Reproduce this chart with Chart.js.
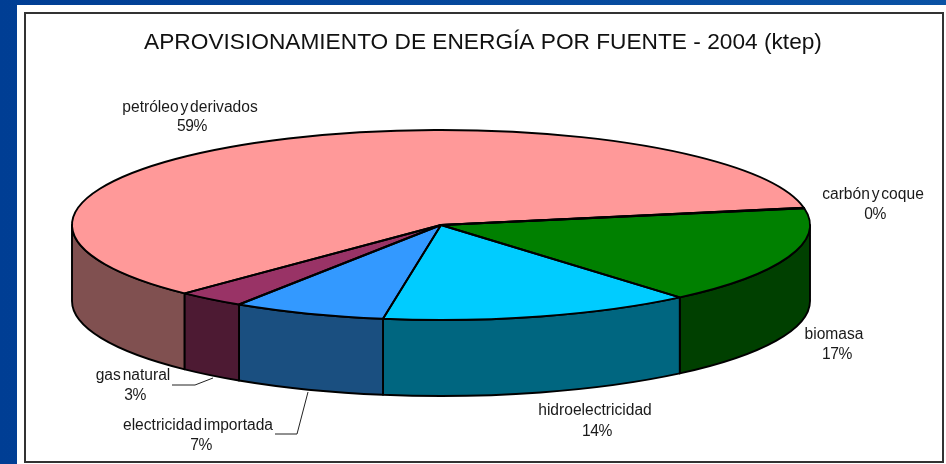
<!DOCTYPE html>
<html><head><meta charset="utf-8">
<style>html,body{margin:0;padding:0;background:#fff;overflow:hidden}canvas{display:block}</style>
<script src="https://cdn.jsdelivr.net/npm/chart.js@4"></script></head>
<body><canvas id="c" width="946" height="464" style="width:946px;height:464px"></canvas>
<script>
const chartTitle = 'APROVISIONAMIENTO DE ENERGÍA POR FUENTE - 2004 (ktep)';
const categories = ['petróleo y derivados','carbón y coque','biomasa','hidroelectricidad','electricidad importada','gas natural'];
const values = [59.8, 0.1, 16.6, 13.7, 6.7, 3.0];
const percentLabels = ['59%','0%','17%','14%','7%','3%'];
const topColors = ['#FF9999','#FFFFCC','#008000','#00CCFF','#3399FF','#993366'];
const sideColors = ['#805050','#808066','#004000','#006680','#1A4F80','#4D1A33'];
const nameCentres = [[190,108],[873,195],[834,335],[595,411],[198,426],[133,376]];
const percentCentres = [[192,127],[875,215],[837,355],[597,432],[201,446],[135,396]];
const leaderLines = [
  [[275,434],[297,434],[308,392]],
  [[172,385],[195,385],[213,378]]
];
const PIE = {cx:441, cy:225, rx:369, ry:95, depth:76};

const scene = {
  id:'scene',
  beforeDraw(chart){
    const g = chart.ctx;
    g.save();
    const grad = g.createLinearGradient(0,0,946,0);
    grad.addColorStop(0,'#003E94'); grad.addColorStop(1,'#0A52A4');
    g.fillStyle = grad; g.fillRect(0,0,946,464);
    g.fillStyle = '#fff'; g.fillRect(17,5,929,459);
    g.strokeStyle = '#333'; g.lineWidth = 2;
    g.strokeRect(25,13,918,449);
    g.restore();
  },
  beforeDatasetsDraw(chart){
    const g = chart.ctx, arcs = chart.getDatasetMeta(0).data, P = PIE;
    g.save();
    g.lineWidth = 1.9; g.strokeStyle = '#000'; g.lineJoin = 'round';
    arcs.forEach((arc,i)=>{
      const T = Math.PI*2;
      let s = arc.startAngle % T; if (s<0) s+=T;
      const e = s + (arc.endAngle-arc.startAngle);
      [[0,Math.PI],[T,T+Math.PI]].forEach(([lo,hi])=>{
        const a = Math.max(s,lo), b = Math.min(e,hi);
        if (b<=a) return;
        g.beginPath();
        g.ellipse(P.cx,P.cy,P.rx,P.ry,0,a,b);
        g.lineTo(P.cx+P.rx*Math.cos(b),P.cy+P.ry*Math.sin(b)+P.depth);
        g.ellipse(P.cx,P.cy+P.depth,P.rx,P.ry,0,b,a,true);
        g.closePath();
        g.fillStyle = sideColors[i];
        g.fill(); g.stroke();
      });
    });
    g.restore();
    // flatten the library's own pie into the tilted ellipse
    const a0 = arcs[0];
    g.save();
    g.translate(P.cx,P.cy);
    g.scale(P.rx/a0.outerRadius,P.ry/a0.outerRadius);
    g.translate(-a0.x,-a0.y);
  },
  afterDatasetsDraw(chart){
    const g = chart.ctx, arcs = chart.getDatasetMeta(0).data, P = PIE;
    g.restore();
    g.save();
    g.lineWidth = 1.9; g.strokeStyle = '#000'; g.lineJoin = 'round';
    arcs.forEach(arc=>{
      g.beginPath();
      g.moveTo(P.cx,P.cy);
      g.ellipse(P.cx,P.cy,P.rx,P.ry,0,arc.startAngle,arc.endAngle);
      g.closePath();
      g.stroke();
    });
    g.lineWidth = 1; g.strokeStyle = '#222';
    leaderLines.forEach(pts=>{
      g.beginPath();
      pts.forEach((p,k)=> k? g.lineTo(p[0],p[1]) : g.moveTo(p[0],p[1]));
      g.stroke();
    });
    g.fillStyle = '#1a1a1a';
    g.font = '15.6px "Liberation Sans"';
    g.textAlign = 'center'; g.textBaseline = 'middle';
    g.wordSpacing = '-2.5px';
    categories.forEach((name,i)=>{
      g.fillText(name,nameCentres[i][0],nameCentres[i][1]);
    });
    g.wordSpacing = '0px';
    g.letterSpacing = '-0.4px';
    percentLabels.forEach((txt,i)=>{
      g.fillText(txt,percentCentres[i][0],percentCentres[i][1]);
    });
    g.restore();
  }
};

new Chart(document.getElementById('c'),{
  type:'pie',
  data:{labels:categories,datasets:[{data:values,backgroundColor:topColors,borderWidth:0,clip:false}]},
  options:{
    responsive:false,animation:false,
    rotation:224,
    layout:{padding:{left:20,top:0,right:0,bottom:0}},
    events:[],
    plugins:{
      legend:{display:false},tooltip:{enabled:false},
      title:{display:true,text:chartTitle,color:'#111',
        font:{family:'"Liberation Sans"',size:22.7,weight:'normal'},
        padding:{top:29.2,bottom:8}}
    }
  },
  plugins:[scene]
});
</script></body></html>
